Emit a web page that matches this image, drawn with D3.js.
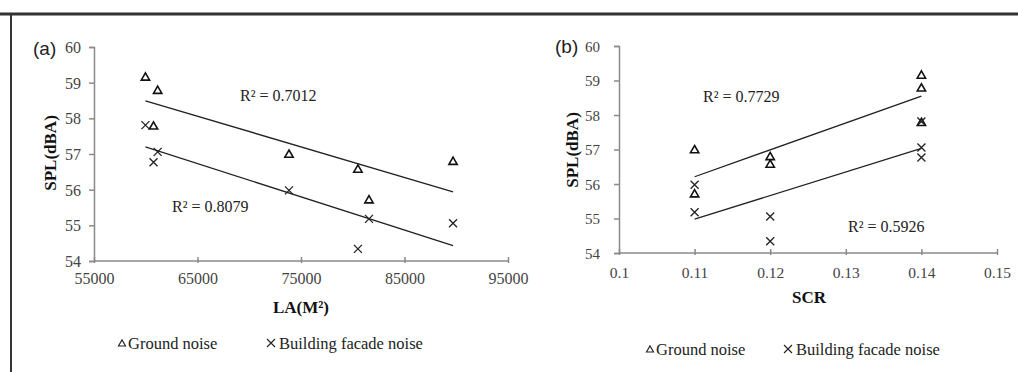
<!DOCTYPE html>
<meta charset="utf-8">
<style>
  body { margin: 0; background: #fff; }
  svg { display: block; }
  .axis path, .axis line { stroke: #8a8a8a; stroke-width: 1.5; }
  .title { font-family: "Liberation Serif", serif; font-weight: bold; font-size: 17px; fill: #111; }
  .r2 { font-family: "Liberation Serif", serif; font-size: 16px; fill: #222; }
  .legend { font-family: "Liberation Serif", serif; font-size: 16.5px; fill: #222; }
  .panel-label { font-family: "Liberation Sans", Arial, sans-serif; font-size: 19px; fill: #222; }
</style>
<body>
<svg width="1018" height="372"></svg>
<script src="https://d3js.org/d3.v7.min.js"></script>
<script>
  // seven sites, same order in every array
  var landArea = [59970, 61150, 60750, 73840, 80500, 81570, 89690];
  var scr = [0.14, 0.14, 0.14, 0.11, 0.12, 0.11, 0.12];
  var groundNoise = [59.16, 58.79, 57.79, 57.00, 56.58, 55.72, 56.80];
  var facadeNoise = [57.81, 57.06, 56.77, 55.98, 54.34, 55.18, 55.06];

  // fitted lines as drawn (value at lowest x, value at highest x)
  var trendLaGround = [58.49, 55.94];
  var trendLaFacade = [57.20, 54.43];
  var trendScrGround = [56.21, 58.55];
  var trendScrFacade = [54.98, 57.03];

  var laTicks = [55000, 65000, 75000, 85000, 95000];
  var scrTicks = [0.1, 0.11, 0.12, 0.13, 0.14, 0.15];
  var splTicks = [54, 55, 56, 57, 58, 59, 60];

  var legendLabels = ["Ground noise", "Building facade noise"];

  var svg = d3.select("svg");

  // frame
  svg.append("line").attr("x1", 0).attr("x2", 1018).attr("y1", 14).attr("y2", 14)
    .attr("stroke", "#333").attr("stroke-width", 3);
  svg.append("line").attr("x1", 11).attr("x2", 11).attr("y1", 13).attr("y2", 372)
    .attr("stroke", "#333").attr("stroke-width", 2);

  var triangle = d3.symbol().type(d3.symbolTriangle).size(30);

  function styleTicks(sel, size) {
    sel.attr("font-family", "Liberation Serif, serif").attr("font-size", size);
    sel.selectAll(".tick text")
      .style("font-family", "'Liberation Serif', serif")
      .style("font-size", size + "px")
      .style("fill", "#444");
  }

  function drawPanel(p) {
    var x = d3.scaleLinear().domain(p.xDomain).range([p.x0, p.x1]);
    var y = d3.scaleLinear().domain([54, 60]).range([p.y0, p.y1]);
    var g = svg.append("g");

    // y axis
    var ya = g.append("g").attr("class", "axis")
      .attr("transform", "translate(" + p.x0 + ",0)")
      .call(d3.axisLeft(y).tickValues(splTicks).tickFormat(d3.format("d"))
        .tickSize(5).tickSizeOuter(5).tickPadding(p.yPad));
    ya.selectAll(".tick text").attr("dy", "0.35em");
    styleTicks(ya, p.yFont);

    // x axis
    var xa = g.append("g").attr("class", "axis")
      .attr("transform", "translate(0," + p.y0 + ")")
      .call(d3.axisBottom(x).tickValues(p.ticks).tickSize(0).tickSizeOuter(0)
        .tickPadding(p.xPad).tickFormat(p.fmt));
    xa.selectAll(".tick line").attr("y1", -4).attr("y2", 2);
    xa.select(".domain").attr("d", "M" + p.x0 + ",0H" + (p.x1 + 1));
    styleTicks(xa, p.xFont);

    // trend lines
    var xs = d3.extent(p.xs);
    [p.trendG, p.trendF].forEach(function (t) {
      g.append("line")
        .attr("x1", x(xs[0])).attr("y1", y(t[0]))
        .attr("x2", x(xs[1])).attr("y2", y(t[1]))
        .attr("stroke", "#222").attr("stroke-width", 1.3);
    });

    // ground noise
    g.selectAll(".gp").data(groundNoise).enter().append("path")
      .attr("class", "gp")
      .attr("d", triangle)
      .attr("transform", function (d, i) { return "translate(" + x(p.xs[i]) + "," + (y(d) + 0.8) + ")"; })
      .attr("fill", "none").attr("stroke", "#111").attr("stroke-width", 1.6);

    // facade noise
    g.selectAll(".fp").data(facadeNoise).enter().append("path")
      .attr("class", "fp")
      .attr("d", "M-4,-4L4,4M-4,4L4,-4")
      .attr("transform", function (d, i) { return "translate(" + x(p.xs[i]) + "," + y(d) + ")"; })
      .attr("fill", "none").attr("stroke", "#222").attr("stroke-width", 1.3);

    // R² labels
    p.r2.forEach(function (r) {
      g.append("text").attr("class", "r2").attr("x", r[0]).attr("y", r[1])
        .attr("dy", "0.35em").text(r[2]);
    });

    // titles
    g.append("text").attr("class", "title").attr("text-anchor", "middle")
      .attr("x", p.xTitle[0]).attr("y", p.xTitle[1]).attr("dy", "0.35em")
      .text(p.xLabel);
    g.append("text").attr("class", "title").attr("text-anchor", "middle")
      .attr("transform", "translate(" + p.yTitle[0] + "," + p.yTitle[1] + ") rotate(-90)")
      .attr("dy", "0.35em").text("SPL(dBA)");
    g.append("text").attr("class", "panel-label")
      .attr("x", p.label[0]).attr("y", p.label[1]).attr("dy", "0.35em").text(p.name);

    // legend
    var lg = g.append("g").attr("transform", "translate(" + p.legend[0] + "," + p.legend[1] + ")");
    lg.append("path").attr("d", d3.symbol().type(d3.symbolTriangle).size(22))
      .attr("transform", "translate(4,1)")
      .attr("fill", "none").attr("stroke", "#222").attr("stroke-width", 1.1);
    lg.append("text").attr("class", "legend").attr("x", 10).attr("dy", "0.35em").text(legendLabels[0]);
    lg.append("path").attr("d", "M-4,-4L4,4M-4,4L4,-4")
      .attr("transform", "translate(" + (p.legend[2] + 4) + ",0)")
      .attr("fill", "none").attr("stroke", "#222").attr("stroke-width", 1.1);
    lg.append("text").attr("class", "legend").attr("x", p.legend[2] + 12).attr("dy", "0.35em").text(legendLabels[1]);
  }

  drawPanel({
    name: "(a)", xDomain: [55000, 95000], x0: 94, x1: 508, y0: 261, y1: 47,
    ticks: laTicks, fmt: d3.format("d"), xs: landArea, yPad: 8, xPad: 12, yFont: 16, xFont: 16,
    trendG: trendLaGround, trendF: trendLaFacade,
    r2: [[240, 95, "R² = 0.7012"], [172, 206, "R² = 0.8079"]],
    xLabel: "LA(M²)", xTitle: [301, 307], yTitle: [50, 153], label: [33, 48],
    legend: [118, 343, 149]
  });

  drawPanel({
    name: "(b)", xDomain: [0.1, 0.15], x0: 619, x1: 997, y0: 253, y1: 46,
    ticks: scrTicks, fmt: function (d) { return String(+d.toFixed(2)); }, xs: scr,
    yPad: 14, xPad: 14, yFont: 15, xFont: 15.5,
    trendG: trendScrGround, trendF: trendScrFacade,
    r2: [[703, 96, "R² = 0.7729"], [848, 226, "R² = 0.5926"]],
    xLabel: "SCR", xTitle: [809, 297], yTitle: [572, 150], label: [555, 46],
    legend: [646, 349, 138]
  });
</script>
</body>
